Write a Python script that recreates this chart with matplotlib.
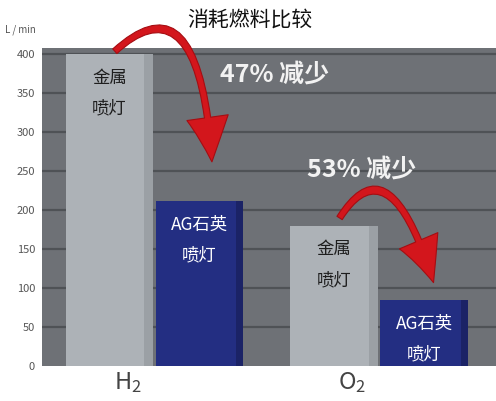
import matplotlib
matplotlib.use('Agg')
import matplotlib.pyplot as plt
import numpy as np
from matplotlib.patches import FancyArrowPatch
from matplotlib.path import Path

plt.rcParams['font.family'] = ['Noto Sans CJK SC', 'DejaVu Sans']

# данные
gases = ['H$_2$', 'O$_2$']
metal = [400, 180]           # 金属喷灯
quartz = [212, 85]           # AG石英喷灯
metal_label = '金属\n喷灯'
quartz_label = 'AG石英\n喷灯'
reduction = ['47% 减少', '53% 减少']
yticks = [0, 50, 100, 150, 200, 250, 300, 350, 400]

x = np.arange(len(gases))
w = 0.39

fig = plt.figure(figsize=(4.96, 4.01), dpi=100)
ax = fig.add_axes([0.0847, 0.0873, 0.9153, 0.7927])
ax.set_facecolor('#6e7176')
ax.set_xlim(-0.5, 1.52)
ax.set_ylim(0, 408)

for v in yticks[1:]:
    ax.axhline(v, color='#4f5256', lw=1.6, zorder=1)

ax.bar(x - 0.2, metal, w, color='#adb2b7', edgecolor='none', zorder=2)
ax.bar(x - 0.2 + w / 2 - 0.02, metal, 0.04, color='#9ba0a5', edgecolor='none', zorder=2)
ax.bar(x + 0.2, quartz, w, color='#232e82', edgecolor='none', zorder=2)
ax.bar(x + 0.2 + w / 2 - 0.015, quartz, 0.03, color='#1b2366', edgecolor='none', zorder=2)

for i in range(len(gases)):
    ax.text(x[i] - 0.2, metal[i] - 50, metal_label, ha='center', va='center',
            fontsize=12.5, color='#1e1e1e', linespacing=1.9, zorder=3)
    ax.text(x[i] + 0.2, quartz[i] - 50, quartz_label, ha='center', va='center',
            fontsize=12.5, color='white', linespacing=1.9, zorder=3)

# красные стрелки
arrows = [[(-0.176, 404), (0.202, 503), (0.256, 262)],
          [(0.824, 190), (1.047, 291), (1.242, 107)]]
for pts in arrows:
    p = Path(pts, [Path.MOVETO, Path.CURVE3, Path.CURVE3])
    arr = FancyArrowPatch(path=p, arrowstyle='simple,head_length=32,head_width=30,tail_width=4.5',
                          color='#d3161c', ec='#a50d12', lw=0.8, zorder=4,
                          transform=ax.transData, clip_on=False)
    ax.add_patch(arr)

ax.text(0.536, 374, reduction[0], ha='center', va='center', fontsize=18,
        fontweight='bold', color='#f2f2f2', zorder=5)
ax.text(0.922, 252, reduction[1], ha='center', va='center', fontsize=18,
        fontweight='bold', color='#f2f2f2', zorder=5)

ax.set_yticks(yticks)
ax.set_yticklabels([str(v) for v in yticks], fontsize=8, color='#555555')
ax.set_xticks(x - 0.12)
ax.set_xticklabels([r'$\mathregular{H_2}$', r'$\mathregular{O_2}$'], fontsize=17,
                   color='#444444')
ax.tick_params(length=0)
ax.tick_params(axis='y', pad=5)
ax.tick_params(axis='x', pad=3)
for s in ax.spines.values():
    s.set_visible(False)

fig.text(0.504, 0.95, '消耗燃料比较', ha='center', va='center', fontsize=15,
         color='#111111')
fig.text(0.01, 0.925, 'L / min', ha='left', va='center', fontsize=7,
         color='#555555')

fig.savefig('out.png', dpi=100)
